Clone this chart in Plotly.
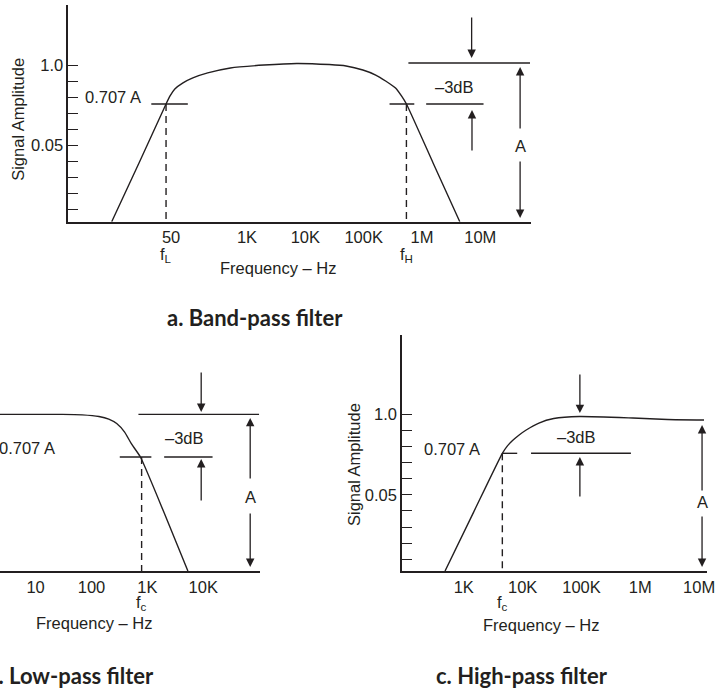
import numpy as np
import plotly.graph_objects as go

W, H = 724, 688
INK = "#231f20"
FONT = "Liberation Sans, Arial, sans-serif"
BOLD = "Lato, Open Sans, sans-serif"
FS = 16.5

# %% values
# amplitude axis: ten ticks, only two of them labelled
amp_ticks = [0.1, 0.2, 0.3, 0.4, 0.5, 0.6, 0.7, 0.8, 0.9, 1.0]
amp_ticktext = ["", "", "", "", "0.05", "", "", "", "", "1.0"]

# a. band-pass
bp_freq = [4.8, 14.1, 41, 48, 58, 80, 118, 212, 520, 1960, 7110, 25800, 50000, 97000,
           161000, 238000, 352000, 445000, 541000, 1550000, 4450000]
bp_amp = [0.027, 0.392, 0.758, 0.808, 0.851, 0.889, 0.920, 0.951, 0.982, 1.0, 1.010, 1.003, 0.994, 0.969,
          0.938, 0.901, 0.857, 0.808, 0.758, 0.392, 0.027]
bp_fl, bp_fh = 41, 541000
bp_ref, bp_cut = 1.013, 0.758
bp_ticks = [50, 1e3, 1e4, 1e5, 1e6, 1e7]
bp_ticktext = ["50", "1K", "10K", "100K", "1M", "10M"]

# b. low-pass
lp_freq = [1, 30, 68, 136, 204, 283, 392, 521, 752, 2040, 5320]
lp_amp = [1.0, 1.0, 0.997, 0.987, 0.971, 0.943, 0.890, 0.816, 0.735, 0.381, 0.027]
lp_fc = 790
lp_ref, lp_cut = 1.0, 0.735
lp_ticks = [10, 100, 1e3, 1e4]
lp_ticktext = ["10", "100", "1K", "10K"]

# c. high-pass
hp_freq = [480, 1470, 4520, 5480, 6670, 8730, 11500, 18900, 33800, 92500, 748000, 2900000, 12100000]
hp_amp = [0.027, 0.393, 0.758, 0.803, 0.836, 0.872, 0.903, 0.946, 0.974, 0.987, 0.977, 0.968, 0.965]
hp_fc = 4520
hp_cut = 0.758
hp_ticks = [1e3, 1e4, 1e5, 1e6, 1e7]
hp_ticktext = ["1K", "10K", "100K", "1M", "10M"]


def px(x):
    return x / W


def py(y):
    return 1 - y / H


fig = go.Figure()


def line(xa, ya, xs, ys, dash=None, width=1.4, shape="linear"):
    fig.add_trace(go.Scatter(
        x=xs, y=ys, mode="lines", xaxis=xa, yaxis=ya,
        line=dict(color=INK, width=width, dash=dash, shape=shape, smoothing=0.5),
        hoverinfo="skip", showlegend=False))


ann = []


def arrow(xa, ya, f, head, tail):
    lf = np.log10(f)
    ann.append(dict(xref=xa, yref=ya, axref=xa, ayref=ya, x=lf, y=head, ax=lf, ay=tail,
                    text="", showarrow=True, arrowhead=2, arrowsize=1.3,
                    arrowwidth=1.3, arrowcolor=INK, standoff=0))


def text(xref, yref, x, y, s, size=FS, xanchor="center", family=FONT, angle=0):
    if xref.startswith("x"):
        x = np.log10(x)
    ann.append(dict(xref=xref, yref=yref, x=x, y=y, text=s, showarrow=False,
                    xanchor=xanchor, yanchor="middle", textangle=angle,
                    font=dict(family=family, size=size, color=INK)))


DASH = "7px,5px"

# ---- a. band-pass ----
line("x", "y", bp_freq, bp_amp, shape="spline")
line("x", "y", [bp_fl, bp_fl], [bp_cut, 0.027], dash=DASH)
line("x", "y", [bp_fh, bp_fh], [bp_cut, 0.027], dash=DASH)
line("x", "y", [22.9, 96.8], [bp_cut, bp_cut])
line("x", "y", [2.78e5, 7.38e5], [bp_cut, bp_cut])
line("x", "y", [1.18e6, 1.135e7], [bp_cut, bp_cut])
line("x", "y", [5.85e5, 7.11e7], [bp_ref, bp_ref])
arrow("x", "y", 7.1e6, 1.044, 1.305)
arrow("x", "y", 7.2e6, 0.721, 0.460)
arrow("x", "y", 4.81e7, 0.988, 0.597)
arrow("x", "y", 4.81e7, 0.050, 0.410)
text("x", "y", 4.81e7, 0.497, "A")
text("x", "y", 3.66e6, 0.864, "–3dB")
text("x", "y", 1.55, 0.80, "0.707 A", xanchor="left")
text("x", "paper", bp_fl, py(255), "f<sub>L</sub>")
text("x", "paper", bp_fh, py(255), "f<sub>H</sub>")
text("x", "paper", 3390, py(268), "Frequency – Hz")
text("paper", "paper", px(18), py(119), "Signal Amplitude", angle=-90)
text("paper", "paper", px(258), py(318), "<b>a. Band-pass filter</b>", size=22, family=BOLD)

# ---- b. low-pass ----
line("x2", "y2", lp_freq, lp_amp, shape="spline")
line("x2", "y2", [lp_fc, lp_fc], [lp_cut, 0.027], dash=DASH)
line("x2", "y2", [321, 1180], [lp_cut, lp_cut])
line("x2", "y2", [2000, 14700], [lp_cut, lp_cut])
line("x2", "y2", [693, 99800], [lp_ref, lp_ref])
arrow("x2", "y2", 9200, 1.015, 1.27)
arrow("x2", "y2", 9200, 0.723, 0.456)
arrow("x2", "y2", 69300, 0.978, 0.592)
arrow("x2", "y2", 69300, 0.052, 0.393)
text("x2", "y2", 69300, 0.487, "A")
text("x2", "y2", 4710, 0.854, "–3dB")
text("x2", "y2", 24.5, 0.79, "0.707 A", xanchor="right")
text("x2", "paper", lp_fc, py(603), "f<sub>c</sub>")
text("x2", "paper", 111, py(623), "Frequency – Hz")
ann.append(dict(xref="paper", yref="paper", x=px(158), y=py(675), text="<b>b. Low-pass filter</b>",
                showarrow=False, xanchor="right", yanchor="middle",
                font=dict(family=BOLD, size=22, color=INK)))

# ---- c. high-pass ----
line("x3", "y3", hp_freq, hp_amp, shape="spline")
line("x3", "y3", [hp_fc, hp_fc], [hp_cut, 0.027], dash=DASH)
line("x3", "y3", [4520, 8090], [hp_cut, hp_cut])
line("x3", "y3", [13900, 692000], [hp_cut, hp_cut])
arrow("x3", "y3", 94000, 1.008, 1.257)
arrow("x3", "y3", 94000, 0.735, 0.480)
arrow("x3", "y3", 1.12e7, 0.934, 0.518)
arrow("x3", "y3", 1.12e7, 0.052, 0.375)
text("x3", "y3", 1.12e7, 0.456, "A")
text("x3", "y3", 82400, 0.859, "–3dB")
text("x3", "y3", 197, 0.785, "0.707 A", xanchor="left")
text("x3", "paper", hp_fc, py(603), "f<sub>c</sub>")
text("x3", "paper", 20400, py(625), "Frequency – Hz")
text("paper", "paper", px(358), py(465), "Signal Amplitude", angle=-90)
text("paper", "paper", px(528), py(675), "<b>c. High-pass filter</b>", size=22, family=BOLD)

tickfont = dict(family=FONT, size=FS, color=INK)


def xaxis(domain, rng, tv, tt, anchor):
    return dict(type="log", domain=domain, range=rng, anchor=anchor,
                showline=True, linecolor=INK, linewidth=1.5, showgrid=False, zeroline=False,
                ticks="", tickvals=tv, ticktext=tt, tickfont=tickfont, fixedrange=True)


def yaxis(domain, rng, anchor, show=True):
    return dict(domain=domain, range=rng, anchor=anchor,
                showline=show, linecolor=INK, linewidth=1.5, showgrid=False, zeroline=False,
                ticks="inside" if show else "", ticklen=10, tickwidth=1.3, tickcolor=INK,
                tickvals=amp_ticks, ticktext=amp_ticktext, showticklabels=show,
                tickfont=tickfont, fixedrange=True)


fig.update_layout(
    width=W, height=H,
    margin=dict(l=0, r=0, t=0, b=0),
    paper_bgcolor="white", plot_bgcolor="white",
    showlegend=False,
    xaxis=xaxis([px(69), px(537)], [-0.064, 7.87], bp_ticks, bp_ticktext, "y"),
    yaxis=yaxis([py(221.7), py(5)], [0.027, 1.373], "x"),
    xaxis2=xaxis([0, px(263)], [0.363, 5.018], lp_ticks, lp_ticktext, "y2"),
    yaxis2=yaxis([py(571), py(335)], [0.027, 1.493], "x2", show=False),
    xaxis3=xaxis([px(406.5), px(715)], [1.95, 7.135], hp_ticks, hp_ticktext, "y3"),
    yaxis3=yaxis([py(571), py(335)], [0.027, 1.493], "x3"),
    annotations=ann,
)

# the page's default body margin would push the figure 8px right and down
fig.write_html("out.html", config={"displayModeBar": False},
               post_script="document.body.style.margin='0px';")
